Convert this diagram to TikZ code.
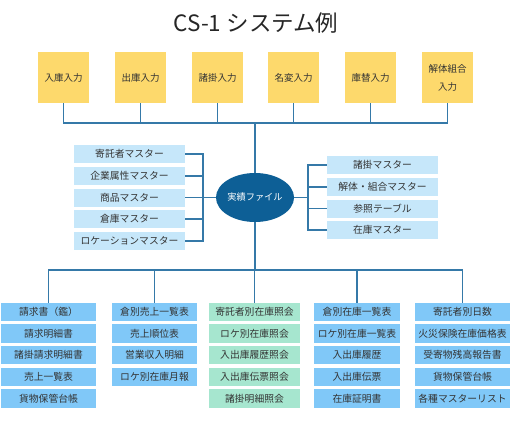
\documentclass[tikz,border=0pt]{standalone}
\usepackage{fontspec}
\setmainfont{Noto Sans CJK JP}
\usepackage{tikz}
\usetikzlibrary{shapes.geometric, positioning, calc}

\definecolor{inyellow}{HTML}{FDD96C}
\definecolor{masterblue}{HTML}{C6E7FA}
\definecolor{outblue}{HTML}{80C8F8}
\definecolor{outgreen}{HTML}{A6E6CF}
\definecolor{filenavy}{HTML}{0D5F96}
\definecolor{wireblue}{HTML}{3579A8}
\definecolor{txtgray}{HTML}{333333}

\tikzset{
  inbox/.style={fill=inyellow, text=txtgray, minimum width=51pt, minimum height=51pt, inner sep=0pt, align=center, font=\fontsize{9.5}{18}\selectfont},
  mbox/.style={fill=masterblue, text=txtgray, minimum width=111pt, minimum height=18pt, inner sep=0pt, font=\fontsize{9.8}{12}\selectfont},
  obox/.style={fill=outblue, text=txtgray, minimum height=18.5pt, inner sep=0pt, font=\fontsize{9.8}{12}\selectfont},
  gbox/.style={obox, fill=outgreen},
  wire/.style={draw=wireblue, line width=1.2pt}
}

\begin{document}
\begin{tikzpicture}[x=1pt, y=-1pt]
                \useasboundingbox (0,0) rectangle (510,430);
                \node[text=black!85, font=\fontsize{22.5}{26}\selectfont] (title) at (256,23) {CS-1 システム例};

                % 入力
                \node[inbox] (in1) at (63.5,77.5) {入庫入力};
                \node[inbox] (in2) at (140.5,77.5) {出庫入力};
                \node[inbox] (in3) at (217.5,77.5) {諸掛入力};
                \node[inbox] (in4) at (293.5,77.5) {名変入力};
                \node[inbox] (in5) at (370.5,77.5) {庫替入力};
                \node[inbox] (in6) at (447.5,77.5) {解体組合\\入力};

                % 実績ファイル
                \node[ellipse, fill=filenavy, text=white, minimum width=76pt, minimum height=49pt, inner sep=0pt, font=\fontsize{9.2}{11}\selectfont] (file) at (255,197.5) {実績ファイル};

                % マスター
                \node[mbox] (ml1) at (129.5,154) {寄託者マスター};
                \node[mbox] (ml2) at (129.5,176) {企業属性マスター};
                \node[mbox] (ml3) at (129.5,197.5) {商品マスター};
                \node[mbox] (ml4) at (129.5,219) {倉庫マスター};
                \node[mbox] (ml5) at (129.5,241) {ロケーションマスター};
                \node[mbox] (mr1) at (382.5,165) {諸掛マスター};
                \node[mbox] (mr2) at (382.5,187) {解体・組合マスター};
                \node[mbox] (mr3) at (382.5,208.5) {参照テーブル};
                \node[mbox] (mr4) at (382.5,230) {在庫マスター};

                % 出力
                \node[obox, minimum width=95pt] (a1) at (48.5,312) {請求書（鑑）};
                \node[obox, minimum width=95pt] (a2) at (48.5,333.5) {請求明細書};
                \node[obox, minimum width=95pt] (a3) at (48.5,355) {諸掛請求明細書};
                \node[obox, minimum width=95pt] (a4) at (48.5,377) {売上一覧表};
                \node[obox, minimum width=95pt] (a5) at (48.5,398.5) {貨物保管台帳};

                \node[obox, minimum width=85pt] (b1) at (154.5,312) {倉別売上一覧表};
                \node[obox, minimum width=85pt] (b2) at (154.5,333.5) {売上順位表};
                \node[obox, minimum width=85pt] (b3) at (154.5,355) {営業収入明細};
                \node[obox, minimum width=85pt] (b4) at (154.5,377) {ロケ別在庫月報};

                \node[gbox, minimum width=91pt] (c1) at (254.5,312) {寄託者別在庫照会};
                \node[gbox, minimum width=91pt] (c2) at (254.5,333.5) {ロケ別在庫照会};
                \node[gbox, minimum width=91pt] (c3) at (254.5,355) {入出庫履歴照会};
                \node[gbox, minimum width=91pt] (c4) at (254.5,377) {入出庫伝票照会};
                \node[gbox, minimum width=91pt] (c5) at (254.5,398.5) {諸掛明細照会};

                \node[obox, minimum width=86pt] (d1) at (357,312) {倉別在庫一覧表};
                \node[obox, minimum width=86pt] (d2) at (357,333.5) {ロケ別在庫一覧表};
                \node[obox, minimum width=86pt] (d3) at (357,355) {入出庫履歴};
                \node[obox, minimum width=86pt] (d4) at (357,377) {入出庫伝票};
                \node[obox, minimum width=86pt] (d5) at (357,398.5) {在庫証明書};

                \node[obox, minimum width=95pt] (e1) at (462.5,312) {寄託者別日数};
                \node[obox, minimum width=95pt] (e2) at (462.5,333.5) {火災保険在庫価格表};
                \node[obox, minimum width=95pt] (e3) at (462.5,355) {受寄物残高報告書};
                \node[obox, minimum width=95pt] (e4) at (462.5,377) {貨物保管台帳};
                \node[obox, minimum width=95pt] (e5) at (462.5,398.5) {各種マスターリスト};

                \coordinate (tbus) at (0,123);
                \coordinate (bbus) at (0,270);
                \coordinate (lbar) at (203,0);
                \coordinate (rbar) at (308,0);

                % 入力 → 実績ファイル
                \draw[wire] (in1.south) -- (in1.south |- tbus) -- (in6.south |- tbus) -- (in6.south);
                \draw[wire] (in2.south) -- (in2.south |- tbus);
                \draw[wire] (in3.south) -- (in3.south |- tbus);
                \draw[wire] (in4.south) -- (in4.south |- tbus);
                \draw[wire] (in5.south) -- (in5.south |- tbus);
                \draw[wire] (file.north) -- (file.north |- tbus);

                % マスター ↔ 実績ファイル
                \draw[wire] (ml1.east) -- (ml1.east -| lbar) -- (ml5.east -| lbar) -- (ml5.east);
                \draw[wire] (ml2.east) -- (ml2.east -| lbar);
                \draw[wire] (ml3.east) -- (ml3.east -| lbar);
                \draw[wire] (ml4.east) -- (ml4.east -| lbar);
                \draw[wire] (file.west) -- (file.west -| lbar);
                \draw[wire] (mr1.west) -- (mr1.west -| rbar) -- (mr4.west -| rbar) -- (mr4.west);
                \draw[wire] (mr2.west) -- (mr2.west -| rbar);
                \draw[wire] (mr3.west) -- (mr3.west -| rbar);
                \draw[wire] (file.east) -- (file.east -| rbar);

                % 実績ファイル → 出力
                \draw[wire] (file.south) -- (file.south |- bbus);
                \draw[wire] (a1.north) -- (a1.north |- bbus) -- (e1.north |- bbus) -- (e1.north);
                \draw[wire] (b1.north) -- (b1.north |- bbus);
                \draw[wire] (c1.north) -- (c1.north |- bbus);
                \draw[wire] (d1.north) -- (d1.north |- bbus);
            \end{tikzpicture}
\end{document}
